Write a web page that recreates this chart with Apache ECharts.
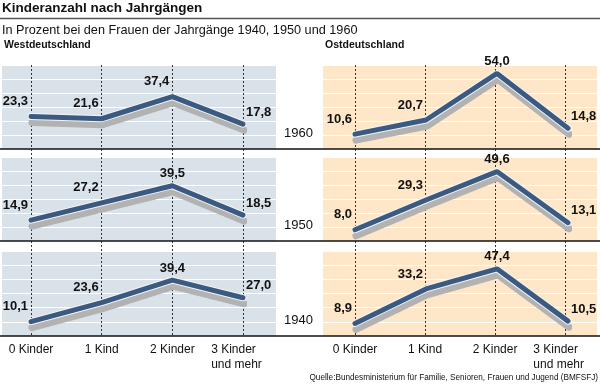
<!DOCTYPE html>
<html><head><meta charset="utf-8">
<script src="https://cdn.jsdelivr.net/npm/echarts@6/dist/echarts.min.js"></script>
<style>html,body{margin:0;padding:0;background:#fff}#c{width:600px;height:386px}</style>
</head><body><div id="c"></div>
<script>
// ---- data ----
const categories = ['0 Kinder', '1 Kind', '2 Kinder', '3 Kinder\nund mehr'];
const years = ['1960', '1950', '1940'];
const west1960 = [23.3, 21.6, 37.4, 17.8];
const west1950 = [14.9, 27.2, 39.5, 18.5];
const west1940 = [10.1, 23.6, 39.4, 27.0];
const east1960 = [10.6, 20.7, 54.0, 14.8];
const east1950 = [8.0, 29.3, 49.6, 13.1];
const east1940 = [8.9, 33.2, 47.4, 10.5];
const yMin = 0, yMax = 60, yStep = 10;

// ---- layout / style ----
const FONT = '"Liberation Sans", Arial, Helvetica, sans-serif';
const rowTop = [65, 157, 251];
const rowH = [84, 84, 85];
const sides = [
  { name: 'Westdeutschland', rows: [west1960, west1950, west1940], bgLeft: 2, bgW: 274, dLeft: 31, dW: 212, bg: '#d9e1e9' },
  { name: 'Ostdeutschland', rows: [east1960, east1950, east1940], bgLeft: 323, bgW: 274, dLeft: 355, dW: 213, bg: '#fde7c8' }
];
// label placement exceptions (side-row-index): placed left of the point
const leftLabels = { '0-0-2': true };

const grid = [], xAxis = [], yAxis = [], series = [], title = [], graphic = [];

function fmt(v) { return v.toFixed(1).replace('.', ','); }
function labelFor(si, r, i) {
  const base = { show: true, position: 'top', color: '#111', fontFamily: FONT, fontWeight: 'bold', fontSize: 13,
    formatter: p => fmt(p.value) };
  if (i < 2 || leftLabels[si + '-' + r + '-' + i]) return Object.assign(base, { align: 'right', offset: [-3, -2], distance: 6 });
  if (i === 2) return Object.assign(base, { align: 'center', distance: 5 });
  return Object.assign(base, { align: 'left', offset: [3, 1], distance: 6 });
}
const lblStyle = { fontFamily: FONT, fontSize: 12, lineHeight: 15, color: '#111' };
function xFmt(v) {
  if (v.indexOf('\n') < 0) return '{c|' + v + '}';
  return v.split('\n').map(t => '{m|' + t + '}').join('\n');
}

sides.forEach((s, si) => {
  const tallIdx = grid.length;
  grid.push({ left: s.dLeft, width: s.dW, top: rowTop[0], height: rowTop[2] + rowH[2] - rowTop[0], show: false });
  xAxis.push({ gridIndex: tallIdx, type: 'category', boundaryGap: false, data: categories, z: 1,
    axisLine: { show: false }, axisTick: { show: false },
    splitLine: { show: true, lineStyle: { color: '#333', width: 1, type: [2, 2] } },
    axisLabel: { show: true, margin: 6, interval: 0, formatter: xFmt,
      rich: { c: Object.assign({}, lblStyle), m: Object.assign({ align: 'left', padding: [0, 13, 0, 0] }, lblStyle) },
      color: '#111', fontFamily: FONT, fontSize: 12, lineHeight: 15 } });
  yAxis.push({ gridIndex: tallIdx, type: 'value', min: yMin, max: yMax, show: false });

  s.rows.forEach((vals, r) => {
    const bi = grid.length;
    grid.push({ left: s.bgLeft, width: s.bgW, top: rowTop[r], height: rowH[r], show: true, backgroundColor: s.bg, borderWidth: 0, z: 0 });
    xAxis.push({ gridIndex: bi, type: 'value', min: 0, max: 1, show: false });
    yAxis.push({ gridIndex: bi, type: 'value', min: yMin, max: yMax, interval: yStep, z: 0,
      axisLine: { show: false }, axisTick: { show: false }, axisLabel: { show: false },
      splitLine: { show: true, lineStyle: { color: '#ffffff', width: 1.2 } } });
    const di = grid.length;
    grid.push({ left: s.dLeft, width: s.dW, top: rowTop[r], height: rowH[r], show: false });
    xAxis.push({ gridIndex: di, type: 'category', boundaryGap: false, data: categories, show: false });
    yAxis.push({ gridIndex: di, type: 'value', min: yMin, max: yMax, show: false });
    series.push({ type: 'line', xAxisIndex: di, yAxisIndex: di, data: vals, symbol: 'none', z: 3, silent: true,
      lineStyle: { color: '#f4f4f4', width: 7, cap: 'round', shadowColor: '#b2b2b2', shadowOffsetX: 1, shadowOffsetY: 6, shadowBlur: 0 } });
    series.push({ type: 'line', xAxisIndex: di, yAxisIndex: di, z: 4,
      data: vals.map((v, i) => ({ value: v, label: labelFor(si, r, i) })),
      symbol: 'circle', symbolSize: 1, itemStyle: { color: 'rgba(0,0,0,0)' },
      lineStyle: { color: '#3b5a81', width: 5, cap: 'round' } });
  });

  title.push({ text: s.name, left: s.bgLeft + 2, top: 40, padding: 0,
    textStyle: { fontFamily: FONT, fontWeight: 'bold', fontSize: 10.5, color: '#111' } });
});

years.forEach((y, r) => {
  title.push({ text: y, left: 284, top: rowTop[r] + rowH[r] - 22, padding: 0,
    textStyle: { fontFamily: FONT, fontWeight: 'normal', fontSize: 13, color: '#111' } });
});

title.push({ text: 'Kinderanzahl nach Jahrgängen', left: 2, top: 1, padding: 0,
  textStyle: { fontFamily: FONT, fontWeight: 'bold', fontSize: 13.5, color: '#111' } });
title.push({ text: 'In Prozent bei den Frauen der Jahrgänge 1940, 1950 und 1960', left: 2, top: 24, padding: 0,
  textStyle: { fontFamily: FONT, fontWeight: 'normal', fontSize: 12.7, color: '#111' } });
title.push({ text: 'Quelle:Bundesministerium für Familie, Senioren, Frauen und Jugend (BMFSFJ)', right: 2, top: 374, padding: 0,
  textStyle: { fontFamily: FONT, fontWeight: 'normal', fontSize: 8.2, color: '#111' } });

graphic.push({ type: 'line', shape: { x1: 0, y1: 18.5, x2: 600, y2: 18.5 }, style: { stroke: '#555', lineWidth: 1.5 }, z: 10 });
rowTop.forEach((t, r) => {
  const y = t + rowH[r];
  graphic.push({ type: 'line', shape: { x1: 0, y1: y, x2: 600, y2: y }, style: { stroke: '#111', lineWidth: 1.5 }, z: 10 });
});

const chart = echarts.init(document.getElementById('c'), null, { renderer: 'canvas' });
chart.setOption({ animation: false, backgroundColor: '#fff', title, grid, xAxis, yAxis, series, graphic });
</script></body></html>
